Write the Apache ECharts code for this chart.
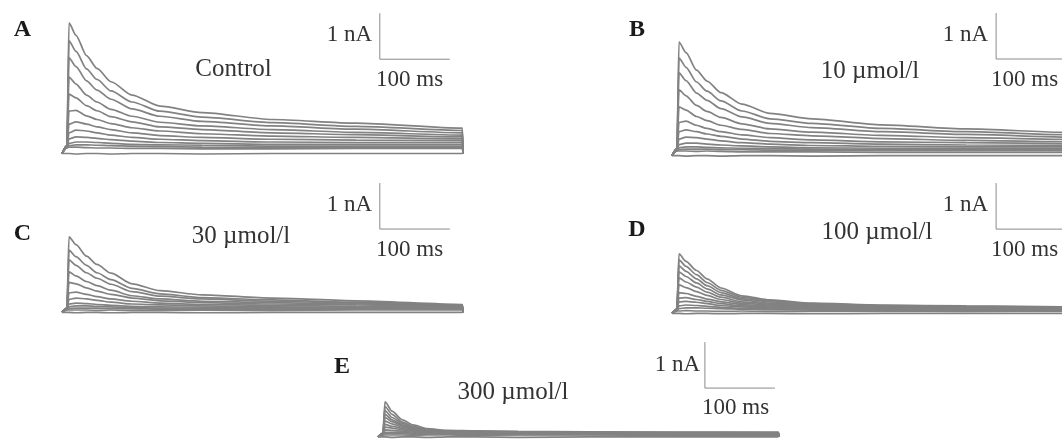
<!DOCTYPE html>
<html>
<head>
<meta charset="utf-8">
<script src="https://cdn.jsdelivr.net/npm/echarts@6/dist/echarts.min.js"></script>
<style>
html,body{margin:0;padding:0;background:#fff;}
#chart{width:1062px;height:440px;}
</style>
</head>
<body>
<div id="chart"></div>
<script>
// ---- data (time in ms, current in nA) ----
const TIME_MS = [0, 7, 10, 20, 35, 50, 70, 100, 140, 200, 300, 420, 572, 573];

const TRACES_A = [
  [-0.12, 0.05, 2.72, 2.45, 2.01, 1.73, 1.44, 1.15, 0.91, 0.77, 0.62, 0.54, 0.43, -0.12],
  [-0.12, 0.05, 2.33, 2.10, 1.72, 1.49, 1.24, 1.00, 0.80, 0.67, 0.55, 0.47, 0.38, -0.12],
  [-0.12, 0.05, 1.96, 1.77, 1.46, 1.26, 1.06, 0.85, 0.69, 0.58, 0.48, 0.41, 0.33, -0.12],
  [-0.12, 0.05, 1.54, 1.39, 1.15, 1.00, 0.84, 0.69, 0.56, 0.48, 0.40, 0.34, 0.28, -0.12],
  [-0.12, 0.05, 1.17, 1.09, 0.92, 0.81, 0.68, 0.57, 0.46, 0.40, 0.33, 0.29, 0.24, -0.12],
  [-0.12, 0.05, 0.80, 0.82, 0.70, 0.62, 0.53, 0.44, 0.37, 0.31, 0.26, 0.23, 0.20, -0.12],
  [-0.12, 0.04, 0.52, 0.57, 0.52, 0.46, 0.40, 0.33, 0.27, 0.23, 0.19, 0.17, 0.16, -0.12],
  [-0.12, 0.04, 0.33, 0.39, 0.37, 0.33, 0.28, 0.23, 0.19, 0.16, 0.13, 0.12, 0.12, -0.12],
  [-0.12, 0.03, 0.20, 0.24, 0.23, 0.21, 0.18, 0.15, 0.12, 0.10, 0.08, 0.08, 0.08, -0.12],
  [-0.12, 0.02, 0.10, 0.13, 0.13, 0.12, 0.10, 0.08, 0.07, 0.06, 0.04, 0.04, 0.04, -0.12],
  [-0.12, 0.01, 0.05, 0.07, 0.07, 0.06, 0.05, 0.04, 0.03, 0.02, 0.01, 0.02, 0.02, -0.12],
  [-0.12, 0.00, 0.02, 0.02, 0.01, 0.00, 0.00, -0.01, -0.01, -0.02, -0.02, -0.01, -0.01, -0.12],
  [-0.12, -0.12, -0.12, -0.13, -0.12, -0.12, -0.13, -0.12, -0.12, -0.13, -0.12, -0.12, -0.12, -0.12]
];

const TRACES_B = [
  [-0.10, 0.05, 2.37, 2.14, 1.76, 1.52, 1.27, 1.02, 0.82, 0.70, 0.57, 0.48, 0.40, -0.10],
  [-0.10, 0.05, 2.02, 1.82, 1.50, 1.30, 1.09, 0.87, 0.70, 0.60, 0.49, 0.42, 0.35, -0.10],
  [-0.10, 0.05, 1.70, 1.53, 1.26, 1.10, 0.92, 0.74, 0.60, 0.51, 0.42, 0.36, 0.30, -0.10],
  [-0.10, 0.05, 1.33, 1.20, 0.99, 0.86, 0.73, 0.59, 0.48, 0.41, 0.34, 0.29, 0.25, -0.10],
  [-0.10, 0.05, 0.96, 0.89, 0.75, 0.66, 0.56, 0.47, 0.38, 0.33, 0.27, 0.23, 0.20, -0.10],
  [-0.10, 0.05, 0.62, 0.65, 0.56, 0.49, 0.42, 0.35, 0.29, 0.24, 0.20, 0.18, 0.16, -0.10],
  [-0.10, 0.04, 0.42, 0.46, 0.42, 0.37, 0.32, 0.26, 0.21, 0.18, 0.15, 0.13, 0.12, -0.10],
  [-0.10, 0.03, 0.26, 0.30, 0.29, 0.26, 0.22, 0.18, 0.15, 0.12, 0.10, 0.09, 0.09, -0.10],
  [-0.10, 0.02, 0.14, 0.17, 0.17, 0.15, 0.13, 0.11, 0.09, 0.07, 0.06, 0.06, 0.06, -0.10],
  [-0.10, 0.01, 0.07, 0.09, 0.09, 0.08, 0.07, 0.06, 0.05, 0.04, 0.03, 0.03, 0.03, -0.10],
  [-0.10, 0.00, 0.03, 0.04, 0.04, 0.04, 0.03, 0.03, 0.02, 0.02, 0.01, 0.01, 0.01, -0.10],
  [-0.10, 0.00, 0.00, 0.00, -0.01, 0.00, -0.01, -0.02, -0.02, -0.02, -0.03, -0.03, -0.03, -0.10],
  [-0.10, -0.10, -0.10, -0.11, -0.10, -0.10, -0.11, -0.10, -0.10, -0.11, -0.10, -0.10, -0.10, -0.10]
];

const TRACES_C = [
  [-0.05, 0.04, 1.59, 1.42, 1.17, 0.99, 0.80, 0.57, 0.42, 0.33, 0.26, 0.20, 0.12, -0.05],
  [-0.05, 0.04, 1.30, 1.16, 0.97, 0.81, 0.66, 0.47, 0.35, 0.27, 0.22, 0.17, 0.11, -0.05],
  [-0.05, 0.04, 1.09, 0.97, 0.81, 0.69, 0.56, 0.40, 0.30, 0.24, 0.19, 0.15, 0.10, -0.05],
  [-0.05, 0.04, 0.83, 0.74, 0.62, 0.53, 0.43, 0.31, 0.24, 0.19, 0.16, 0.13, 0.09, -0.05],
  [-0.05, 0.03, 0.60, 0.57, 0.48, 0.41, 0.34, 0.26, 0.20, 0.16, 0.13, 0.11, 0.08, -0.05],
  [-0.05, 0.03, 0.37, 0.39, 0.34, 0.29, 0.24, 0.19, 0.15, 0.12, 0.10, 0.08, 0.07, -0.05],
  [-0.05, 0.02, 0.23, 0.26, 0.24, 0.21, 0.17, 0.13, 0.11, 0.09, 0.07, 0.06, 0.05, -0.05],
  [-0.05, 0.02, 0.13, 0.15, 0.14, 0.12, 0.10, 0.08, 0.07, 0.06, 0.05, 0.04, 0.04, -0.05],
  [-0.05, 0.01, 0.07, 0.09, 0.09, 0.08, 0.07, 0.05, 0.04, 0.04, 0.03, 0.03, 0.03, -0.05],
  [-0.05, 0.01, 0.03, 0.04, 0.04, 0.04, 0.03, 0.03, 0.02, 0.02, 0.01, 0.02, 0.02, -0.05],
  [-0.05, 0.00, 0.00, 0.00, 0.00, -0.01, 0.00, -0.01, -0.01, 0.00, -0.01, 0.00, 0.00, -0.05],
  [-0.05, -0.05, -0.05, -0.06, -0.05, -0.05, -0.06, -0.05, -0.05, -0.06, -0.05, -0.05, -0.05, -0.05]
];

const TRACES_D = [
  [-0.05, 0.04, 1.24, 1.08, 0.88, 0.70, 0.50, 0.33, 0.24, 0.17, 0.13, 0.11, 0.09, -0.05],
  [-0.05, 0.04, 1.11, 0.97, 0.79, 0.62, 0.45, 0.30, 0.22, 0.16, 0.12, 0.10, 0.08, -0.05],
  [-0.05, 0.04, 0.98, 0.86, 0.70, 0.55, 0.40, 0.27, 0.20, 0.14, 0.11, 0.09, 0.08, -0.05],
  [-0.05, 0.04, 0.85, 0.75, 0.61, 0.48, 0.35, 0.24, 0.17, 0.13, 0.10, 0.09, 0.07, -0.05],
  [-0.05, 0.04, 0.72, 0.63, 0.52, 0.41, 0.30, 0.20, 0.15, 0.12, 0.09, 0.08, 0.07, -0.05],
  [-0.05, 0.03, 0.57, 0.51, 0.42, 0.34, 0.25, 0.17, 0.13, 0.10, 0.08, 0.07, 0.06, -0.05],
  [-0.05, 0.03, 0.40, 0.38, 0.32, 0.26, 0.20, 0.14, 0.11, 0.08, 0.07, 0.06, 0.05, -0.05],
  [-0.05, 0.02, 0.28, 0.29, 0.25, 0.21, 0.16, 0.11, 0.09, 0.07, 0.06, 0.05, 0.05, -0.05],
  [-0.05, 0.02, 0.20, 0.21, 0.19, 0.16, 0.12, 0.09, 0.07, 0.06, 0.05, 0.04, 0.04, -0.05],
  [-0.05, 0.01, 0.11, 0.13, 0.12, 0.10, 0.08, 0.06, 0.05, 0.04, 0.03, 0.03, 0.03, -0.05],
  [-0.05, 0.01, 0.05, 0.07, 0.07, 0.06, 0.05, 0.04, 0.03, 0.02, 0.02, 0.02, 0.02, -0.05],
  [-0.05, 0.00, 0.00, 0.01, 0.00, 0.00, -0.01, 0.00, -0.01, -0.01, 0.00, -0.01, 0.00, -0.05],
  [-0.05, -0.05, -0.05, -0.06, -0.05, -0.05, -0.06, -0.05, -0.05, -0.06, -0.05, -0.05, -0.05, -0.05]
];

const TRACES_E = [
  [-0.04, 0.04, 0.72, 0.52, 0.33, 0.22, 0.14, 0.10, 0.09, 0.08, 0.07, 0.06, 0.06, -0.04],
  [-0.04, 0.04, 0.62, 0.45, 0.28, 0.19, 0.12, 0.09, 0.08, 0.07, 0.06, 0.06, 0.05, -0.04],
  [-0.04, 0.04, 0.53, 0.38, 0.25, 0.17, 0.11, 0.08, 0.07, 0.07, 0.06, 0.05, 0.05, -0.04],
  [-0.04, 0.03, 0.45, 0.33, 0.22, 0.15, 0.10, 0.07, 0.06, 0.06, 0.05, 0.05, 0.05, -0.04],
  [-0.04, 0.03, 0.38, 0.29, 0.20, 0.14, 0.09, 0.07, 0.06, 0.05, 0.05, 0.04, 0.04, -0.04],
  [-0.04, 0.03, 0.30, 0.24, 0.17, 0.12, 0.08, 0.06, 0.05, 0.05, 0.04, 0.04, 0.04, -0.04],
  [-0.04, 0.02, 0.23, 0.19, 0.14, 0.10, 0.07, 0.05, 0.05, 0.04, 0.04, 0.04, 0.03, -0.04],
  [-0.04, 0.02, 0.17, 0.15, 0.11, 0.08, 0.06, 0.05, 0.04, 0.04, 0.03, 0.03, 0.03, -0.04],
  [-0.04, 0.01, 0.11, 0.10, 0.08, 0.06, 0.05, 0.04, 0.03, 0.03, 0.03, 0.03, 0.03, -0.04],
  [-0.04, 0.01, 0.06, 0.06, 0.05, 0.04, 0.03, 0.03, 0.03, 0.02, 0.02, 0.02, 0.02, -0.04],
  [-0.04, 0.00, 0.03, 0.03, 0.03, 0.02, 0.02, 0.02, 0.02, 0.01, 0.01, 0.01, 0.01, -0.04],
  [-0.04, 0.00, 0.00, 0.00, 0.00, -0.01, 0.00, 0.00, -0.01, 0.00, 0.00, -0.01, 0.00, -0.04],
  [-0.04, -0.04, -0.04, -0.05, -0.04, -0.04, -0.05, -0.04, -0.04, -0.05, -0.04, -0.04, -0.04, -0.04]
];

// scale bars: 1 nA x 100 ms, corner position in each panel's data units
const SCALE_BAR_NA = 1;
const SCALE_BAR_MS = 100;
const SCALE_CORNER_MS = [454, 463, 454, 463, 467];
const SCALE_CORNER_NA = [1.93, 2.00, 1.76, 1.78, 1.02];

const PANEL_LETTERS = ['A', 'B', 'C', 'D', 'E'];
const CONDITIONS = ['Control', '10 \u00b5mol/l', '30 \u00b5mol/l', '100 \u00b5mol/l', '300 \u00b5mol/l'];
const UNIT_Y = '1 nA';
const UNIT_X = '100 ms';

// ---- layout ----
const PX_PER_MS = 0.7, PX_PER_NA = 46;
const T_MAX = 573, Y_MIN = -0.3, Y_MAX = 3.2;
const PANEL_LAYOUT = [
  {left: 62,  zeroY: 148, letter: [22.5, 30], cond: [233.5, 69], nA: [372, 35],  ms: [376, 80]},
  {left: 672, zeroY: 151, letter: [637, 30],  cond: [870, 71],   nA: [988, 35],  ms: [991, 80]},
  {left: 62,  zeroY: 310, letter: [22.5, 234],cond: [241, 236],  nA: [372, 205], ms: [376, 250]},
  {left: 672, zeroY: 311, letter: [637, 230], cond: [877, 232],  nA: [988, 205], ms: [991, 250]},
  {left: 378, zeroY: 435, letter: [342, 367], cond: [513, 392],  nA: [700, 365], ms: [702, 408]}
];
const ALL_TRACES = [TRACES_A, TRACES_B, TRACES_C, TRACES_D, TRACES_E];

const TRACE_COLOR = '#828282';
const SERIF = '"Liberation Serif", "Times New Roman", serif';

const grids = [], xAxes = [], yAxes = [], series = [], graphics = [];
PANEL_LAYOUT.forEach((p, i) => {
  grids.push({
    left: p.left,
    top: p.zeroY - Y_MAX * PX_PER_NA,
    width: T_MAX * PX_PER_MS,
    height: (Y_MAX - Y_MIN) * PX_PER_NA,
    outerBoundsMode: 'none',
    containLabel: false
  });
  xAxes.push({type: 'value', gridIndex: i, min: 0, max: T_MAX, show: false});
  yAxes.push({type: 'value', gridIndex: i, min: Y_MIN, max: Y_MAX, show: false});
  ALL_TRACES[i].forEach(tr => {
    series.push({
      type: 'line', xAxisIndex: i, yAxisIndex: i,
      data: TIME_MS.map((t, k) => [t, tr[k]]),
      showSymbol: false, smooth: 0.25, smoothMonotone: 'x',
      silent: true, animation: false,
      lineStyle: {color: TRACE_COLOR, width: 1.7}
    });
  });
  const t0 = SCALE_CORNER_MS[i], y0 = SCALE_CORNER_NA[i];
  series.push({
    type: 'line', xAxisIndex: i, yAxisIndex: i, clip: false,
    data: [[t0, y0 + SCALE_BAR_NA], [t0, y0], [t0 + SCALE_BAR_MS, y0]],
    showSymbol: false, silent: true, animation: false,
    lineStyle: {color: '#8a8a8a', width: 1}
  });
  graphics.push(
    {type: 'text', x: p.letter[0], y: p.letter[1], silent: true,
     style: {text: PANEL_LETTERS[i], font: 'bold 24px ' + SERIF, fill: '#1a1a1a', align: 'center', verticalAlign: 'middle'}},
    {type: 'text', x: p.cond[0], y: p.cond[1], silent: true,
     style: {text: CONDITIONS[i], font: '25px ' + SERIF, fill: '#333', align: 'center', verticalAlign: 'middle'}},
    {type: 'text', x: p.nA[0], y: p.nA[1], silent: true,
     style: {text: UNIT_Y, font: '23px ' + SERIF, fill: '#333', align: 'right', verticalAlign: 'middle'}},
    {type: 'text', x: p.ms[0], y: p.ms[1], silent: true,
     style: {text: UNIT_X, font: '23px ' + SERIF, fill: '#333', align: 'left', verticalAlign: 'middle'}}
  );
});

const chart = echarts.init(document.getElementById('chart'), null, {renderer: 'canvas'});
chart.setOption({
  animation: false,
  backgroundColor: '#fff',
  grid: grids, xAxis: xAxes, yAxis: yAxes,
  series: series,
  graphic: graphics
});
</script>
</body>
</html>
